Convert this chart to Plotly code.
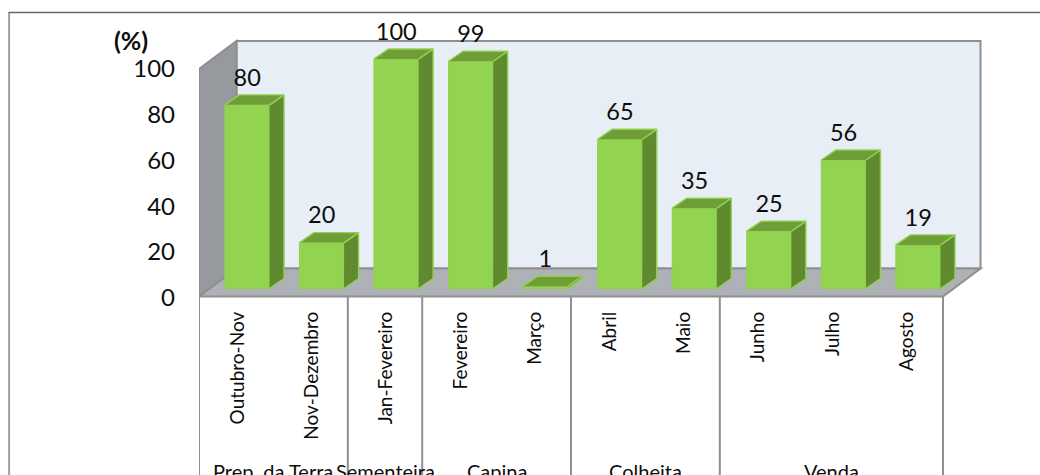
# %% imports
# --------------------
import numpy as np
import plotly.graph_objects as go

# %% data
# --------------------
months = ["Outubro-Nov", "Nov-Dezembro", "Jan-Fevereiro", "Fevereiro", "Março",
          "Abril", "Maio", "Junho", "Julho", "Agosto"]
values = [80, 20, 100, 99, 1, 65, 35, 25, 56, 19]
groups = ["Prep. da Terra", "Sementeira", "Capina", "Colheita", "Venda"]
group_sizes = [2, 1, 2, 2, 3]
y_ticks = [0, 20, 40, 60, 80, 100]

# %% fake 3d geometry (Excel style box, px converted to axis units)
# --------------------
W, H = 1040, 475
PX_X = 74.45   # px per category slot
PX_Y = 2.3     # px per y unit
LEFT, ZERO, RIGHT, TOP = 198.5, 298.5, 990, 28

floor = 1.5 / PX_Y      # floor edge sits a bit above the axis zero
wall_dx, wall_dy = 37.5 / PX_X, 28 / PX_Y
wall_h = 228 / PX_Y
bar_off, bar_base = 11 / PX_X, 9.5 / PX_Y
bar_w = 0.6
bar_pitch = 74.6 / PX_X
bar_dx, bar_dy = 14.5 / PX_X, 10 / PX_Y
label_gap = 3.5 / PX_Y
tick_nudge = 1.2 / PX_X

GRID = "#8f8f8f"
FONT = "Lato"
INK = "#0d0d0d"


def poly(pts):
    return "M" + "L".join(f"{x},{y}" for x, y in pts) + "Z"


n = len(months)
centers = np.arange(n) + 0.5
bar_x = 0.5 + bar_off + np.arange(n) * bar_pitch
x0 = bar_x - bar_w / 2
x1 = bar_x + bar_w / 2
tops = np.array(values) + bar_base

side_x, side_y, top_x, top_y = [], [], [], []
for i in range(n):
    side_x += [x1[i], x1[i] + bar_dx, x1[i] + bar_dx, x1[i], None]
    side_y += [bar_base, bar_base + bar_dy, tops[i] + bar_dy, tops[i], None]
    top_x += [x0[i], x0[i] + bar_dx, x1[i] + bar_dx, x1[i], None]
    top_y += [tops[i], tops[i] + bar_dy, tops[i] + bar_dy, tops[i], None]

fig = go.Figure()
fig.add_trace(go.Bar(x=bar_x, y=values, base=bar_base, width=bar_w,
                     marker=dict(color="#92D450", line=dict(color="#92D050", width=1))))
fig.add_trace(go.Scatter(x=side_x, y=side_y, mode="lines", fill="toself",
                         fillcolor="#5F8A30", line=dict(color="#92D050", width=1.4)))
fig.add_trace(go.Scatter(x=top_x, y=top_y, mode="lines", fill="toself",
                         fillcolor="#6F9E38", line=dict(color="#92D050", width=1.4)))
fig.add_trace(go.Scatter(x=bar_x, y=tops + bar_dy + label_gap, mode="text", text=[str(v) for v in values],
                         textposition="top center", cliponaxis=False,
                         textfont=dict(family=FONT, size=23.5, color=INK)))

# walls and floor
shapes = [
    dict(type="path", layer="below", line=dict(color=GRID, width=2), fillcolor="#E8EEF5",
         path=poly([(wall_dx, floor + wall_dy), (wall_dx, floor + wall_h + wall_dy),
                    (n + wall_dx, floor + wall_h + wall_dy), (n + wall_dx, floor + wall_dy)])),
    dict(type="path", layer="below", line=dict(color=GRID, width=2), fillcolor="#96999E",
         path=poly([(0, floor), (0, floor + wall_h), (wall_dx, floor + wall_h + wall_dy),
                    (wall_dx, floor + wall_dy)])),
    dict(type="path", layer="below", line=dict(color=GRID, width=2), fillcolor="#AEB1B6",
         path=poly([(0, floor), (n, floor), (n + wall_dx, floor + wall_dy), (wall_dx, floor + wall_dy)])),
]

# group dividers under the axis, running off the bottom of the picture
bounds = np.concatenate([[0], np.cumsum(group_sizes)])
for b in bounds:
    shapes.append(dict(type="line", xref="x", yref="paper", x0=b, x1=b, y0=0.01, y1=-0.8,
                       line=dict(color=GRID, width=2)))

fx = lambda p: (p - LEFT) / (RIGHT - LEFT)
fy = lambda p: (ZERO - p) / (ZERO - TOP)

annotations = [
    dict(text="<b>(%)</b>", xref="paper", yref="paper", x=fx(130), y=fy(40), xanchor="center",
         yanchor="middle", showarrow=False, font=dict(family=FONT, size=25, color=INK)),
]
for g, a, b in zip(groups, bounds[:-1], bounds[1:]):
    annotations.append(dict(text=g, xref="x", yref="paper", x=(a + b) / 2, y=0, yshift=-173,
                            yanchor="middle", xanchor="center", showarrow=False,
                            font=dict(family=FONT, size=20, color=INK)))

# outer chart frame, left and top only, cut by the picture edges
shapes.append(dict(type="line", xref="paper", yref="paper", layer="below",
                   x0=fx(8.5), x1=fx(8.5), y0=fy(12), y1=fy(480), line=dict(color="#a0a0a0", width=2)))
shapes.append(dict(type="line", xref="paper", yref="paper", layer="below",
                   x0=fx(8), x1=fx(1045), y0=fy(12.5), y1=fy(12.5), line=dict(color="#666666", width=1.5)))

fig.update_layout(
    width=W, height=H, showlegend=False, paper_bgcolor="white", plot_bgcolor="rgba(0,0,0,0)",
    margin=dict(l=LEFT, r=W - RIGHT, t=TOP, b=H - ZERO, pad=0),
    shapes=shapes, annotations=annotations,
)
fig.update_xaxes(range=[0, (RIGHT - LEFT) / PX_X], tickmode="array", tickvals=centers + tick_nudge,
                 ticktext=months, tickangle=-90, showgrid=False, zeroline=False, showline=False, ticks="",
                 ticklabelstandoff=9, tickfont=dict(family=FONT, size=19, color=INK))
fig.update_yaxes(range=[0, (ZERO - TOP) / PX_Y], tickmode="array", tickvals=y_ticks,
                 showgrid=False, zeroline=False, showline=False, ticks="",
                 ticklabelstandoff=23, tickfont=dict(family=FONT, size=24, color=INK))

fig.write_html("out.html", config={"displayModeBar": False},
               post_script="document.body.style.margin='0'")
